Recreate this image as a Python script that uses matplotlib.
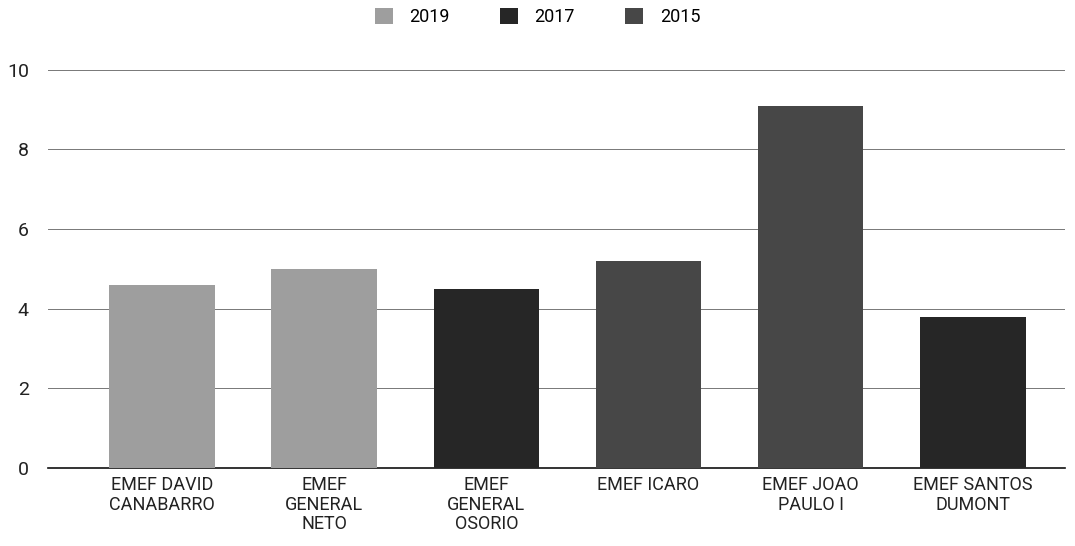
import numpy as np
import matplotlib.pyplot as plt

escolas = ['EMEF DAVID\nCANABARRO', 'EMEF\nGENERAL\nNETO', 'EMEF\nGENERAL\nOSORIO',
           'EMEF ICARO', 'EMEF JOAO\nPAULO I', 'EMEF SANTOS\nDUMONT']
anos = ['2019', '2017', '2015']
v2019 = [4.6, 5.0, 0, 0, 0, 0]
v2017 = [0, 0, 4.5, 0, 0, 3.8]
v2015 = [0, 0, 0, 5.2, 9.1, 0]
cores = ['#9e9e9e', '#262626', '#474747']

plt.rcParams['font.family'] = ['Roboto', 'DejaVu Sans']

fig = plt.figure(figsize=(10.75, 5.46), dpi=100)
ax = fig.add_axes([0.045, 0.143, 0.946, 0.729])

x = np.arange(len(escolas))
base = np.zeros(len(escolas))
for ano, vals, cor in zip(anos, [v2019, v2017, v2015], cores):
    ax.bar(x, vals, 0.65, bottom=base, color=cor, label=ano, zorder=3)
    base += np.array(vals)

ax.set_ylim(0, 10)
ax.set_xlim(-0.70, 5.57)
ax.set_yticks([0, 2, 4, 6, 8, 10])
ax.set_xticks(x)
ax.set_xticklabels(escolas, fontsize=13, color='#222222', linespacing=1.1)
ax.tick_params(axis='y', labelsize=14, colors='#222222', length=0, pad=14)
ax.tick_params(axis='x', length=0, pad=6)
ax.grid(axis='y', color='#777777', linewidth=0.7, zorder=0)
for s in ['top', 'right', 'left']:
    ax.spines[s].set_visible(False)
ax.spines['bottom'].set_color('#111111')
ax.spines['bottom'].set_linewidth(1.2)

fig.legend(loc='upper center', bbox_to_anchor=(0.5, 1.015), ncol=3, frameon=False,
           fontsize=13, handlelength=1.0, handleheight=1.0, columnspacing=2.8,
           handletextpad=0.9)

fig.savefig('out.png', dpi=100)
